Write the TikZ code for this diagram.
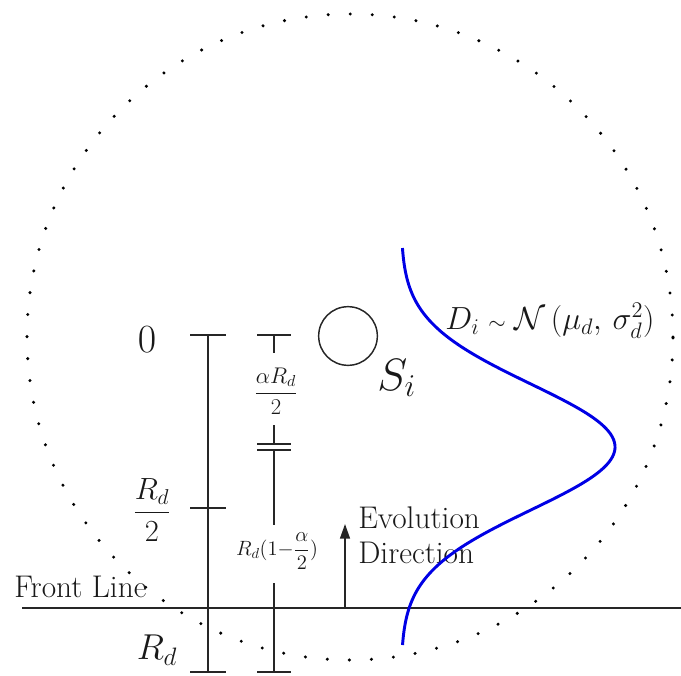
\RequirePackage{fix-cm}
\documentclass[tikz,border=0pt]{standalone}
\usepackage{amsmath}
\usetikzlibrary{arrows.meta}
\begin{document}
\begin{tikzpicture}[x=0.75pt,y=-0.75pt,
  bar/.style={line width=1.1pt, black!85},
  front/.style={line width=1.6pt, black!85},
  gauss/.style={line width=2.2pt, blue!90!black},
  dotring/.style={line width=2.5pt, line cap=round, dash pattern={on 0pt off 16.54pt}},
  lbl/.style={inner sep=0pt, text=black!90}]
\useasboundingbox (0,0) rectangle (681,675);
% dotted outer circle
\draw[dotring] (350,337) circle [radius=242.25pt];
% front line
\coordinate (fl0) at (22,608);
\coordinate (fl1) at (681,608);
\draw[front] (fl0) -- (fl1);
\node[lbl, anchor=west, font=\fontsize{23.5}{28}\selectfont] (frontlbl) at (14,587) {Front Line};
% left scale bar
\coordinate (a0) at (208,335);
\coordinate (am) at (208,508);
\coordinate (a1) at (208,672);
\draw[bar] (a0) -- (a1);
\foreach \c in {a0,am,a1}{\draw[bar] ([xshift=-13.5pt]\c) -- ([xshift=13.5pt]\c);}
\node[lbl, font=\fontsize{30}{34}\selectfont] (zero) at (147,340) {$0$};
\node[lbl, font=\fontsize{23}{27}\selectfont] (half) at (152,510) {$\dfrac{R_d}{2}$};
\node[lbl, font=\fontsize{27}{30}\selectfont] (rd) at (157,650) {$R_d$};
% right scale bar
\coordinate (b0) at (274,335);
\coordinate (b0e) at (274,353);
\coordinate (b1s) at (274,425);
\coordinate (b1) at (274,444);
\coordinate (b2) at (274,450);
\coordinate (b2e) at (274,525);
\coordinate (b3s) at (274,583);
\coordinate (b3) at (274,672);
\draw[bar] (b0) -- (b0e);
\draw[bar] (b1s) -- (b1);
\draw[bar] (b2) -- (b2e);
\draw[bar] (b3s) -- (b3);
\foreach \c in {b0,b1,b2,b3}{\draw[bar] ([xshift=-12.5pt]\c) -- ([xshift=12.5pt]\c);}
\node[lbl, font=\fontsize{17}{20}\selectfont] (arl) at (276,391) {$\dfrac{\alpha R_d}{2}$};
\node[lbl, font=\fontsize{15.5}{18}\selectfont] (rrl) at (277,551) {$R_d(1{-}\dfrac{\alpha}{2})$};
% S_i circle
\node[draw, circle, line width=1.1pt, black!85, minimum size=44pt, inner sep=0pt] (si) at (348,336) {};
\node[lbl, anchor=west, font=\fontsize{34}{38}\selectfont] (silbl) at (377,378) {$S_i$};
% evolution arrow
\coordinate (ev0) at (345,608);
\coordinate (ev1) at (345,524);
\draw[bar, -{Triangle[length=11pt,width=7.5pt]}] (ev0) -- (ev1);
\node[lbl, anchor=west, align=left, font=\fontsize{23.5}{26.5}\selectfont] (evlbl) at (358,535) {Evolution\\Direction};
% gaussian curve
\draw[gauss] plot[domain=248:645, samples=140, smooth] ({401+214*exp(-0.5*((\x-447)/63)^2)}, \x);
\node[lbl, anchor=west, font=\fontsize{24}{28}\selectfont] (dlbl) at (445,321) {$D_i\;{\scriptstyle\sim}\;\mathcal{N}\,(\mu_d,\,\sigma_d^2)$};
\end{tikzpicture}
\end{document}
